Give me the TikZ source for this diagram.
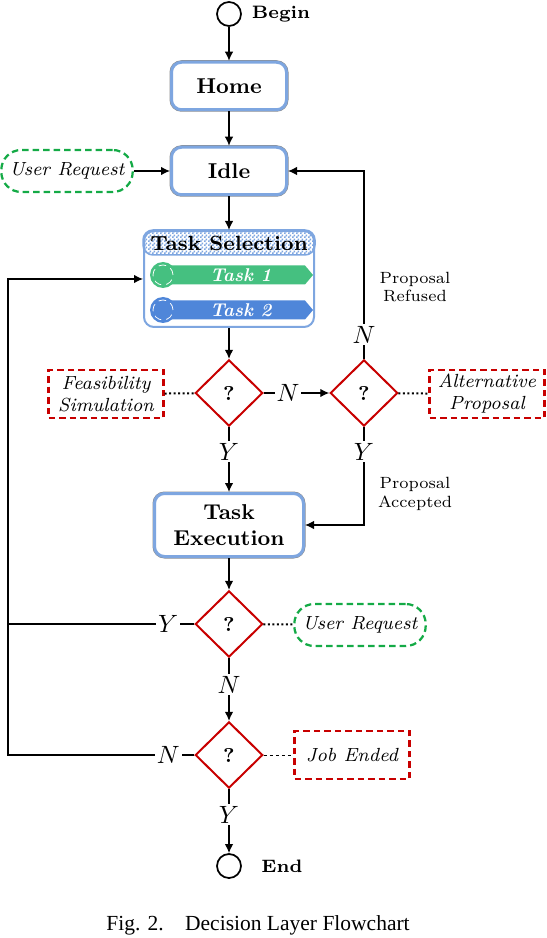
\documentclass[tikz,border=0pt]{standalone}
\usepackage{fontspec}
\newfontfamily\capfont{Liberation Serif}
\usetikzlibrary{arrows.meta,shapes.geometric,shapes.symbols,patterns}

\definecolor{stateblue}{RGB}{126,166,224}
\definecolor{taskgreen}{RGB}{69,192,128}
\definecolor{taskblue}{RGB}{79,134,217}
\definecolor{reqgreen}{RGB}{20,170,70}
\definecolor{checkred}{RGB}{200,0,0}

% Fine checker used for the header of the task list
\pgfdeclarepatternformonly{finecheck}{\pgfpointorigin}{\pgfqpoint{1.6pt}{1.6pt}}{\pgfqpoint{1.6pt}{1.6pt}}{%
  \pgfpathrectangle{\pgfpointorigin}{\pgfqpoint{0.8pt}{0.8pt}}%
  \pgfpathrectangle{\pgfqpoint{0.8pt}{0.8pt}}{\pgfqpoint{0.8pt}{0.8pt}}%
  \pgfusepath{fill}}

\tikzset{
  state/.style={draw=stateblue, line width=1.2pt, rounded corners=4pt, fill=white,
    preaction={draw=black!45, line width=1.6pt},
    font=\fontsize{8.6}{10.4}\selectfont\bfseries, align=center,
    minimum width=46pt, minimum height=19pt},
  decision/.style={diamond, draw=checkred, line width=0.8pt, fill=white,
    minimum width=27pt, minimum height=26.5pt, inner sep=0pt,
    font=\fontsize{8}{9}\selectfont\bfseries},
  check/.style={draw=checkred, line width=0.9pt, dash pattern=on 2.6pt off 1.6pt,
    font=\fontsize{7.6}{8.8}\selectfont\itshape, align=center,
    minimum width=46pt, minimum height=19pt, inner sep=1pt},
  request/.style={draw=reqgreen, line width=0.9pt, dash pattern=on 2.6pt off 1.6pt,
    rounded corners=8pt, font=\fontsize{7.6}{8.8}\selectfont\itshape,
    minimum width=52.4pt, minimum height=16.8pt},
  terminal/.style={circle, draw, line width=0.7pt, minimum size=9.6pt, inner sep=0pt},
  termlabel/.style={font=\fontsize{7.2}{8}\selectfont\bfseries},
  flow/.style={-{Latex[length=3.6pt,width=3.4pt]}, line width=0.5pt},
  link/.style={densely dotted, line width=0.8pt},
  yn/.style={fill=white, inner sep=0.8pt, font=\normalsize},
  note/.style={font=\fontsize{6.5}{7.5}\selectfont, align=center},
  taskbar/.style={signal, signal to=east, signal pointer angle=100, fill=#1,
    minimum width=57.6pt, minimum height=7.6pt, inner sep=0pt, text=white,
    font=\fontsize{7.4}{8}\selectfont\bfseries\itshape},
  taskdot/.style={circle, fill=#1, minimum size=10.4pt, inner sep=0pt}
}

\begin{document}
\begin{tikzpicture}[x=0.4pt, y=-0.4pt]
\useasboundingbox (0,0) rectangle (546,938);

% Columns of the chart
\def\colA{8}
\def\colB{229}
\def\colC{364}

% Start and states
\node[terminal] (begin) at (\colB, 14) {};
\node[termlabel] (beginlbl) at (281, 14) {Begin};
\node[state] (home) at (\colB, 86) {Home};
\node[state] (idle) at (\colB, 171) {Idle};
\node[request] (req1) at (67, 171) {User Request};

% Task selection list
\node[draw=stateblue, line width=0.8pt, rounded corners=4pt, fill=white,
  minimum width=68pt, minimum height=38.4pt] (tsel) at (\colB, 279) {};
\draw[stateblue, line width=0.6pt, pattern=finecheck, pattern color=stateblue, rounded corners=4pt]
  (tsel.north west) rectangle ([yshift=-10pt]tsel.north east);
\node[font=\fontsize{8.2}{9}\selectfont\bfseries] (tstitle) at (\colB, 243) {Task Selection};
\node[taskbar=taskgreen] (task1) at (237, 275) {\hspace{3pt}Task 1};
\node[taskdot=taskgreen] (dot1) at (163, 275) {};
\draw[white, densely dashed, line width=0.3pt] (dot1) circle (4pt);
\node[taskbar=taskblue] (task2) at (237, 310) {\hspace{3pt}Task 2};
\node[taskdot=taskblue] (dot2) at (163, 310) {};
\draw[white, densely dashed, line width=0.3pt] (dot2) circle (4pt);

% First row of checks
\node[decision] (d1) at (\colB, 393) {?};
\node[decision] (d2) at (\colC, 393) {?};
\node[check] (feas) at (106, 394) {Feasibility\\Simulation};
\node[check] (alt) at (487, 394) {Alternative\\Proposal};
\node[note] (refused) at (415, 287) {Proposal\\Refused};
\node[note] (accepted) at (415, 494) {Proposal\\Accepted};

% Execution and end checks
\node[state, minimum width=59.6pt, minimum height=25.2pt] (exec) at (\colB, 525) {Task\\Execution};
\node[decision] (d3) at (\colB, 624) {?};
\node[request] (req2) at (360, 625) {User Request};
\node[decision] (d4) at (\colB, 755) {?};
\node[check] (jobend) at (352, 755) {Job Ended};
\node[terminal] (end) at (\colB, 866) {};
\node[termlabel] (endlbl) at (282, 866) {End};
\coordinate (loop) at (\colA, 278);

% Connectors
\draw[flow] (begin) -- (home);
\draw[flow] (home) -- (idle);
\draw[flow] (req1) -- (idle);
\draw[flow] (idle) -- (tsel);
\draw[flow] (tsel) -- (d1);
\draw[link] (feas) -- (d1);
\draw[flow] (d1) -- node[yn, pos=0.37] {$N$} (d2);
\draw[link] (d2) -- (alt);
\draw[flow] (d2.north) |- node[yn, pos=0.064] {$N$} (idle.east);
\draw[flow] (d1) -- node[yn, pos=0.38] {$Y$} (exec);
\draw[flow] (d2.south) |- node[yn, pos=0.126] {$Y$} (exec.east);
\draw[flow] (exec) -- (d3);
\draw[link] (d3) -- (req2);
\draw[line width=0.5pt] (d3.west) -- node[yn, pos=0.14] {$Y$} (d3.west -| loop);
\draw[flow] (d3) -- node[yn, pos=0.42] {$N$} (d4);
\draw[dash pattern=on 1.4pt off 1pt, line width=0.4pt] (d4) -- (jobend);
\draw[flow] (d4.west) -- node[yn, pos=0.14] {$N$} (d4.west -| loop) |- (tsel.west);
\draw[flow] (d4) -- node[yn, pos=0.4] {$Y$} (end);

% Caption
\node[font=\fontsize{8.6}{10}\capfont] (caption) at (258, 925) {Fig. 2.\quad Decision Layer Flowchart};

\end{tikzpicture}
\end{document}
